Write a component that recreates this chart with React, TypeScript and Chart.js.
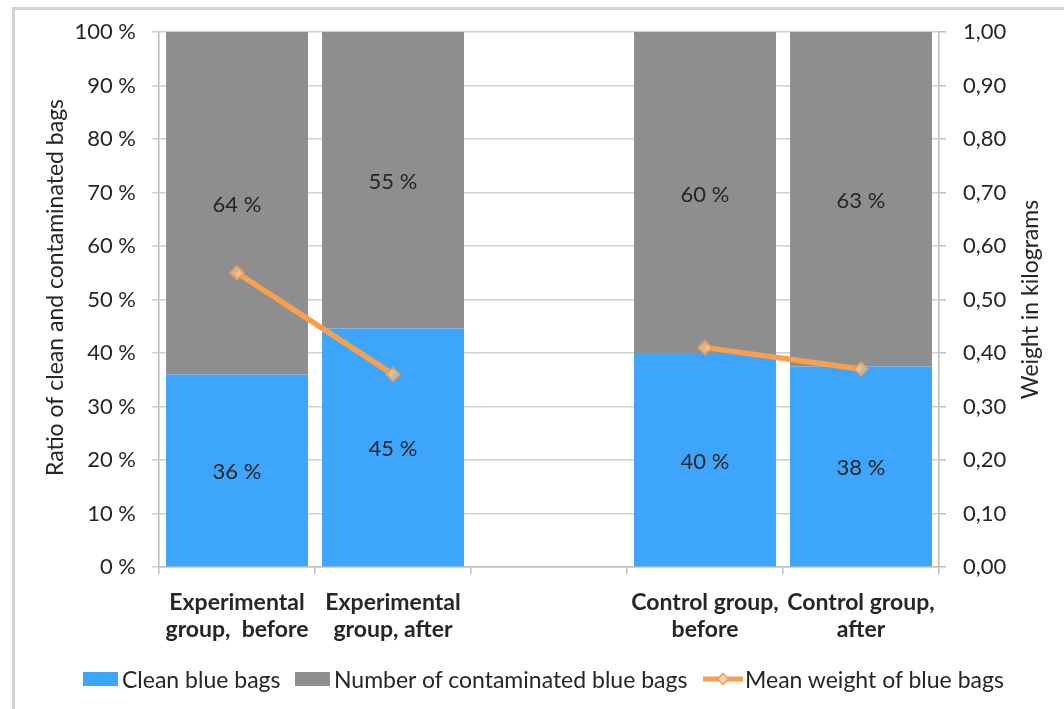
import React, { useEffect, useRef } from 'react';
import { Chart, registerables } from 'chart.js';

Chart.register(...registerables);

// Category labels (the empty slot separates the two groups)
const categories: (string | string[])[] = [
  ['Experimental', 'group,  before'],
  ['Experimental', 'group, after'],
  '',
  ['Control group,', 'before'],
  ['Control group,', 'after'],
];

// Share of bags (percent)
const cleanBags: (number | null)[] = [36, 44.6, null, 40, 37.5];
const contaminatedBags: (number | null)[] = [64, 55.4, null, 60, 62.5];

// Mean weight of blue bags (kg)
const meanWeight: (number | null)[] = [0.55, 0.36, null, 0.41, 0.37];

const seriesNames = ['Clean blue bags', 'Number of contaminated blue bags', 'Mean weight of blue bags'];
const leftTitle = 'Ratio of clean and contaminated bags';
const rightTitle = 'Weight in kilograms';

const FONT = 'Lato, "Open Sans", sans-serif';
const FONT_SIZE = 22;
const TEXT_SIZE = 23;
const BLUE = '#3da6fc';
const GRAY = '#8e8e8e';
const ORANGE = '#f8a04d';
const TEXT = '#262626';

// Value labels centred in every bar segment
const barValueLabels = {
  id: 'barValueLabels',
  afterDatasetsDraw(chart: any) {
    const ctx = chart.ctx;
    ctx.save();
    ctx.font = `${FONT_SIZE}px ${FONT}`;
    ctx.fillStyle = TEXT;
    ctx.textAlign = 'center';
    ctx.textBaseline = 'middle';
    chart.data.datasets.forEach((ds: any, i: number) => {
      if (ds.type === 'line') return;
      const meta = chart.getDatasetMeta(i);
      meta.data.forEach((el: any, j: number) => {
        const v = ds.data[j];
        if (v == null) return;
        const { x, y, base } = el.getProps(['x', 'y', 'base'], true);
        ctx.fillText(`${Math.round(v)} %`, x, (y + base) / 2 + 2);
      });
    });
    ctx.restore();
  },
};

// Vertical axis titles, both reading bottom-to-top
const axisTitles = {
  id: 'axisTitles',
  afterDraw(chart: any) {
    const { ctx, chartArea } = chart;
    const cy = (chartArea.top + chartArea.bottom) / 2;
    ctx.save();
    ctx.font = `${TEXT_SIZE}px ${FONT}`;
    ctx.fillStyle = TEXT;
    ctx.textAlign = 'center';
    ctx.textBaseline = 'middle';
    ctx.translate(56, cy - 12);
    ctx.rotate(-Math.PI / 2);
    ctx.fillText(leftTitle, 0, 0);
    ctx.restore();
    ctx.save();
    ctx.font = `${TEXT_SIZE}px ${FONT}`;
    ctx.fillStyle = TEXT;
    ctx.textAlign = 'center';
    ctx.textBaseline = 'middle';
    ctx.translate(1031, cy);
    ctx.rotate(-Math.PI / 2);
    ctx.fillText(rightTitle, 0, 0);
    ctx.restore();
  },
};

function LegendItem({ left, kind, color, label }: { left: number; kind: 'box' | 'line'; color: string; label: string }) {
  return (
    <div style={{ position: 'absolute', left, top: 664, height: 30, display: 'flex', alignItems: 'center', whiteSpace: 'nowrap' }}>
      {kind === 'box' ? (
        <div style={{ width: 35, height: 14, background: color, marginRight: 4 }} />
      ) : (
        <svg width={40} height={16} style={{ marginRight: 2 }}>
          <line x1={0} y1={8} x2={40} y2={8} stroke={color} strokeWidth={5} />
          <rect x={16} y={4} width={8} height={8} transform="rotate(45 20 8)" fill="#fbd2aa" stroke="#e99a55" strokeWidth={1.2} />
        </svg>
      )}
      <span style={{ font: `${TEXT_SIZE}px ${FONT}`, color: TEXT }}>{label}</span>
    </div>
  );
}

export default function App() {
  const canvasRef = useRef<HTMLCanvasElement | null>(null);

  useEffect(() => {
    if (!canvasRef.current) return;
    const chart = new Chart(canvasRef.current, {
      type: 'bar',
      data: {
        labels: categories,
        datasets: [
          {
            type: 'line',
            label: seriesNames[2],
            data: meanWeight,
            yAxisID: 'y1',
            borderColor: ORANGE,
            borderWidth: 5.5,
            pointStyle: 'rectRot',
            pointRadius: 7,
            pointBorderWidth: 1.5,
            pointBackgroundColor: 'rgba(251, 205, 160, 0.6)',
            pointBorderColor: '#e99a55',
            spanGaps: false,
            order: 0,
          } as any,
          {
            label: seriesNames[0],
            data: cleanBags,
            backgroundColor: BLUE,
            yAxisID: 'y',
            barPercentage: 0.91,
            categoryPercentage: 1,
            order: 1,
          },
          {
            label: seriesNames[1],
            data: contaminatedBags,
            backgroundColor: GRAY,
            yAxisID: 'y',
            barPercentage: 0.91,
            categoryPercentage: 1,
            order: 1,
          },
        ],
      },
      options: {
        responsive: false,
        animation: false,
        layout: { padding: { left: 40, right: 0, top: 32, bottom: 52 } },
        plugins: { legend: { display: false }, tooltip: { enabled: false } },
        scales: {
          x: {
            stacked: true,
            offset: true,
            grid: { offset: true, drawOnChartArea: false, drawTicks: true, tickLength: 7, color: '#bdbdbd', lineWidth: 1.5 },
            border: { color: '#bdbdbd', width: 1.5 },
            ticks: {
              color: TEXT,
              font: { family: FONT, size: TEXT_SIZE, weight: 'bold', lineHeight: 1.17 },
              padding: 15,
              maxRotation: 0,
              autoSkip: false,
            },
            afterFit(scale: any) {
              scale.height = 90;
            },
          },
          y: {
            stacked: true,
            position: 'left',
            min: 0,
            max: 100,
            ticks: {
              stepSize: 10,
              color: TEXT,
              font: { family: FONT, size: FONT_SIZE },
              padding: 16,
              callback: (v: any) => `${v} %`,
            },
            grid: { color: '#cfcfcf', lineWidth: 1.5, tickLength: 7 },
            border: { color: '#bdbdbd', width: 1.5 },
            afterFit(scale: any) {
              scale.width = 119;
            },
          },
          y1: {
            position: 'right',
            min: 0,
            max: 1,
            ticks: {
              stepSize: 0.1,
              color: TEXT,
              font: { family: FONT, size: FONT_SIZE },
              padding: 17,
              callback: (v: any) => Number(v).toFixed(2).replace('.', ','),
            },
            grid: { drawOnChartArea: false, color: '#bdbdbd', lineWidth: 1.5, tickLength: 7 },
            border: { color: '#bdbdbd', width: 1.5 },
            afterFit(scale: any) {
              scale.width = 125;
            },
          },
        },
      } as any,
      plugins: [barValueLabels, axisTitles],
    });
    return () => chart.destroy();
  }, []);

  return (
    <div style={{ position: 'fixed', left: 0, top: 0, width: 1064, height: 709, overflow: 'hidden', background: '#fff' }}>
      <div
        style={{
          position: 'absolute',
          left: 12,
          top: 7,
          width: 1100,
          height: 800,
          borderLeft: '3px solid #d3d3d3',
          borderTop: '3px solid #d3d3d3',
        }}
      />
      <canvas ref={canvasRef} width={1064} height={709} style={{ position: 'absolute', left: 0, top: 0 }} />
      <LegendItem left={83} kind="box" color={BLUE} label={seriesNames[0]} />
      <LegendItem left={295} kind="box" color={GRAY} label={seriesNames[1]} />
      <LegendItem left={703} kind="line" color={ORANGE} label={seriesNames[2]} />
    </div>
  );
}
